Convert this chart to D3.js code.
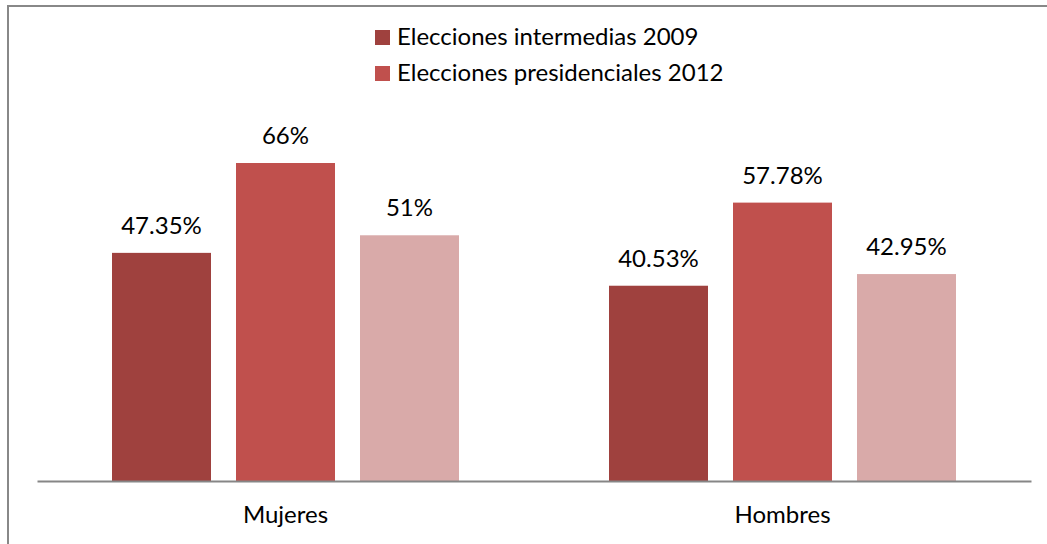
<!DOCTYPE html>
<html>
<head>
<meta charset="utf-8">
<script src="https://cdn.jsdelivr.net/npm/d3@7"></script>
<style>
  html, body { margin: 0; padding: 0; background: #fff; }
  svg { display: block; }
  text { font-family: Lato, "Open Sans", sans-serif; fill: #000; }
</style>
</head>
<body>
<svg id="chart" width="1047" height="544"></svg>
<script>
const categories = ["Mujeres", "Hombres"];
const seriesNames = ["Elecciones intermedias 2009", "Elecciones presidenciales 2012", "Serie 3"];
const legendSeries = ["Elecciones intermedias 2009", "Elecciones presidenciales 2012"];
const values2009 = [47.35, 40.53];
const values2012 = [66, 57.78];
const values3 = [51, 42.95];
const valueLabels2009 = ["47.35%", "40.53%"];
const valueLabels2012 = ["66%", "57.78%"];
const valueLabels3 = ["51%", "42.95%"];
const colors = ["#9F413E", "#C0504D", "#D9AAA9"];

const seriesValues = [values2009, values2012, values3];
const seriesLabels = [valueLabels2009, valueLabels2012, valueLabels3];

const svg = d3.select("#chart");
const fontSize = 24;

// outer border (only top and left visible in the frame)
svg.append("rect")
  .attr("x", 8).attr("y", 6)
  .attr("width", 1100).attr("height", 600)
  .attr("fill", "none").attr("stroke", "#888888").attr("stroke-width", 2);

const x0 = d3.scaleBand().domain(categories).range([37, 1031]).padding(0);
const x1 = d3.scaleBand().domain(seriesNames).range([75, 422]).paddingInner(0.2016).paddingOuter(0);
const y = d3.scaleLinear().domain([0, 70]).range([481, 481 - 70 * 4.818]);

const data = [];
categories.forEach((c, i) => {
  seriesNames.forEach((s, j) => {
    data.push({ cat: c, series: s, value: seriesValues[j][i], label: seriesLabels[j][i], color: colors[j] });
  });
});

const g = svg.append("g");
g.selectAll("rect.bar").data(data).enter().append("rect")
  .attr("class", "bar")
  .attr("x", d => x0(d.cat) + x1(d.series))
  .attr("y", d => y(d.value))
  .attr("width", x1.bandwidth())
  .attr("height", d => y(0) - y(d.value))
  .attr("fill", d => d.color);

g.selectAll("text.val").data(data).enter().append("text")
  .attr("class", "val")
  .attr("x", d => x0(d.cat) + x1(d.series) + x1.bandwidth() / 2)
  .attr("y", d => y(d.value) - 19)
  .attr("text-anchor", "middle")
  .attr("font-size", fontSize)
  .text(d => d.label);

// category axis
const xAxis = d3.axisBottom(x0).tickSize(0).tickPadding(0);
const axisG = svg.append("g").attr("transform", `translate(0,${y(0)})`).call(xAxis);
axisG.select(".domain").attr("stroke", "#868686").attr("stroke-width", 2);
axisG.selectAll(".tick text")
  .attr("font-size", fontSize)
  .attr("font-family", "Lato, 'Open Sans', sans-serif")
  .attr("fill", "#000")
  .attr("dy", null)
  .attr("y", 42);

// legend
const legend = svg.append("g");
legendSeries.forEach((s, i) => {
  const baseY = 45 + i * 36;
  legend.append("rect")
    .attr("x", 375).attr("y", baseY - 15)
    .attr("width", 15).attr("height", 15)
    .attr("fill", colors[seriesNames.indexOf(s)]);
  legend.append("text")
    .attr("x", 397).attr("y", baseY)
    .attr("font-size", fontSize)
    .text(s);
});
</script>
</body>
</html>
